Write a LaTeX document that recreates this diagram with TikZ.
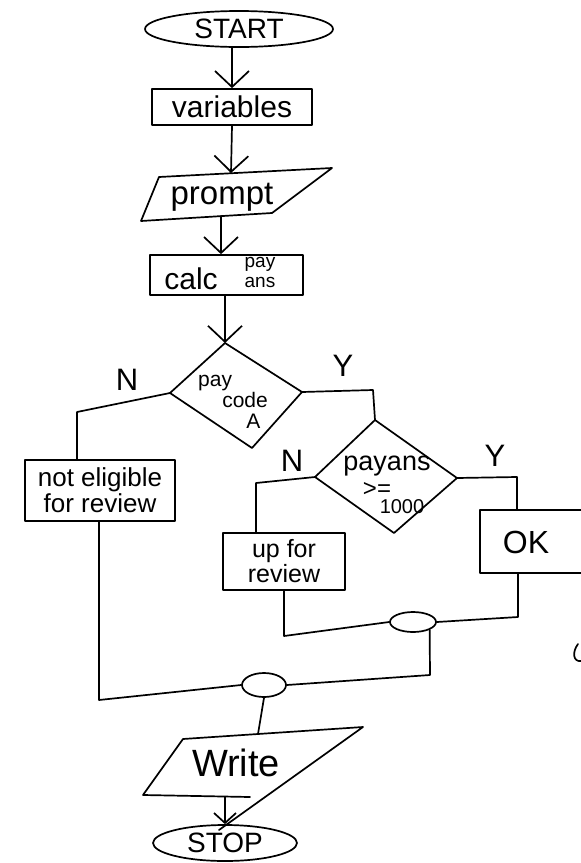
\documentclass[tikz,border=0pt]{standalone}
\usepackage{fontspec}
\setmainfont{Liberation Sans}
\usetikzlibrary{arrows.meta,shapes.geometric}
\begin{document}
\begin{tikzpicture}[x=1pt,y=-1pt,
  stroke/.style={line width=1.7pt, line cap=round, line join=round},
  box/.style={stroke, draw, rectangle, inner sep=0pt},
  oval/.style={stroke, draw, ellipse, inner sep=0pt},
  lbl/.style={font=\fontsize{#1}{#1}\selectfont, inner sep=0pt, align=center},
  flow/.style={stroke, -{Straight Barb[length=16pt,width=34pt]}},
  smallflow/.style={stroke, -{Straight Barb[length=10pt,width=22pt]}},
  link/.style={stroke}]
\useasboundingbox (0,0) rectangle (581,863);
\clip (0,0) rectangle (581,863);

% START
\node[oval, minimum width=188pt, minimum height=36pt, lbl=28] (start) at (239,29) {START};

% variables
\node[box, minimum width=160pt, minimum height=36pt, lbl=30] (vars) at (232,107) {variables};
\draw[flow] (vars.north |- start.south) -- (vars.north);

% prompt (input/output)
\coordinate (pTL) at (159,177);
\coordinate (pTR) at (332,168);
\coordinate (pBR) at (272,213);
\coordinate (pBL) at (141,221);
\draw[stroke] (pTL) -- (pTR) -- (pBR) -- (pBL) -- cycle;
\node[lbl=33] (prompt) at (222,197) {prompt};
\coordinate (ptop) at (231,173);
\coordinate (pbot) at (221,216);
\draw[flow] (vars.south) -- (ptop);

% calc pay ans
\node[box, minimum width=153pt, minimum height=40pt] (calc) at (226.5,275) {};
\node[lbl=30] (calctxt) at (191,279) {calc};
\node[font=\fontsize{19}{20}\selectfont, inner sep=0pt, align=center] (paytxt) at (260,272) {pay\\ans};
\draw[flow] (pbot) -- (pbot |- calc.north);

% decision 1: pay code A
\coordinate (d1t) at (225,343);
\coordinate (d1l) at (170,393);
\coordinate (d1b) at (252,448);
\coordinate (d1r) at (302,392);
\draw[stroke] (d1t) -- (d1r) -- (d1b) -- (d1l) -- cycle;
\node[font=\fontsize{21}{21}\selectfont, inner sep=0pt, align=left] (d1txt) at (233,402) {pay\\\hspace*{1.15em}code\\\hspace*{2.3em}A};
\draw[flow] (d1t |- calc.south) -- (d1t);

\node[lbl=31] (n1lbl) at (127,380) {N};
\node[lbl=31] (y1lbl) at (343,366) {Y};

% not eligible for review
\node[box, minimum width=150pt, minimum height=61pt, lbl=26] (ne) at (100,490.5) {not eligible\\for review};
\coordinate (n1) at (77,412);
\draw[link] (d1l) -- (n1) -- (n1 |- ne.north);

% decision 2: payans >= 1000
\coordinate (d2t) at (375,420);
\coordinate (d2l) at (315,477);
\coordinate (d2b) at (394,533);
\coordinate (d2r) at (457,478);
\draw[stroke] (d2t) -- (d2r) -- (d2b) -- (d2l) -- cycle;
\node[lbl=27] (d2pay) at (387,466) {payans};
\node[lbl=24] (d2ge) at (377,489) {>=};
\node[lbl=20] (d2num) at (402,507) {1000};
\coordinate (y1) at (373,390);
\draw[link] (d1r) -- (y1) -- (d2t);

\node[lbl=31] (n2lbl) at (292,461) {N};
\node[lbl=31] (y2lbl) at (495,456) {Y};

% up for review
\node[box, minimum width=122pt, minimum height=57pt, lbl=25] (upfor) at (284,561.5) {up for\\review};
\coordinate (n2) at (256,483);
\draw[link] (d2l) -- (n2) -- (n2 |- upfor.north);

% OK
\node[box, minimum width=120pt, minimum height=63pt] (ok) at (540,541.5) {};
\node[lbl=32] (oktxt) at (526,542) {OK};
\coordinate (y2) at (517,477);
\draw[link] (d2r) -- (y2) -- (y2 |- ok.north);

% connector 1
\node[oval, minimum width=46pt, minimum height=20pt] (c1) at (413,622) {};
\coordinate (m1) at (284,636);
\draw[link] (m1 |- upfor.south) -- (m1) -- (c1.west);
\coordinate (m2) at (518,617);
\draw[link] (m2 |- ok.south) -- (m2) -- (c1.east);

% connector 2
\node[oval, minimum width=44pt, minimum height=24pt] (c2) at (264,685) {};
\coordinate (m3) at (430,675);
\draw[link] (c1.-25) -- (m3) -- (c2.east);
\coordinate (m4) at (99,700);
\draw[link] (m4 |- ne.south) -- (m4) -- (c2.west);

% Write (output)
\coordinate (wTL) at (183,739);
\coordinate (wTR) at (363,727);
\coordinate (wR) at (219,830);
\coordinate (wBL) at (143,795);
\coordinate (wBR) at (250,797);
\draw[stroke] (wBR) -- (wBL) -- (wTL) -- (wTR) -- (wR);
\node[lbl=38] (write) at (236,763) {Write};
\coordinate (wtop) at (258,734);
\draw[link] (c2.south) -- (wtop);

% STOP
\node[oval, minimum width=144pt, minimum height=36pt, lbl=28] (stop) at (225,843) {STOP};
\coordinate (wbot) at (225,797);
\draw[smallflow] (wbot) -- (stop.north);

% stray pen mark at right edge
\draw[stroke] (578,644) .. controls (572,652) and (573,662) .. (581,661);
\end{tikzpicture}
\end{document}
